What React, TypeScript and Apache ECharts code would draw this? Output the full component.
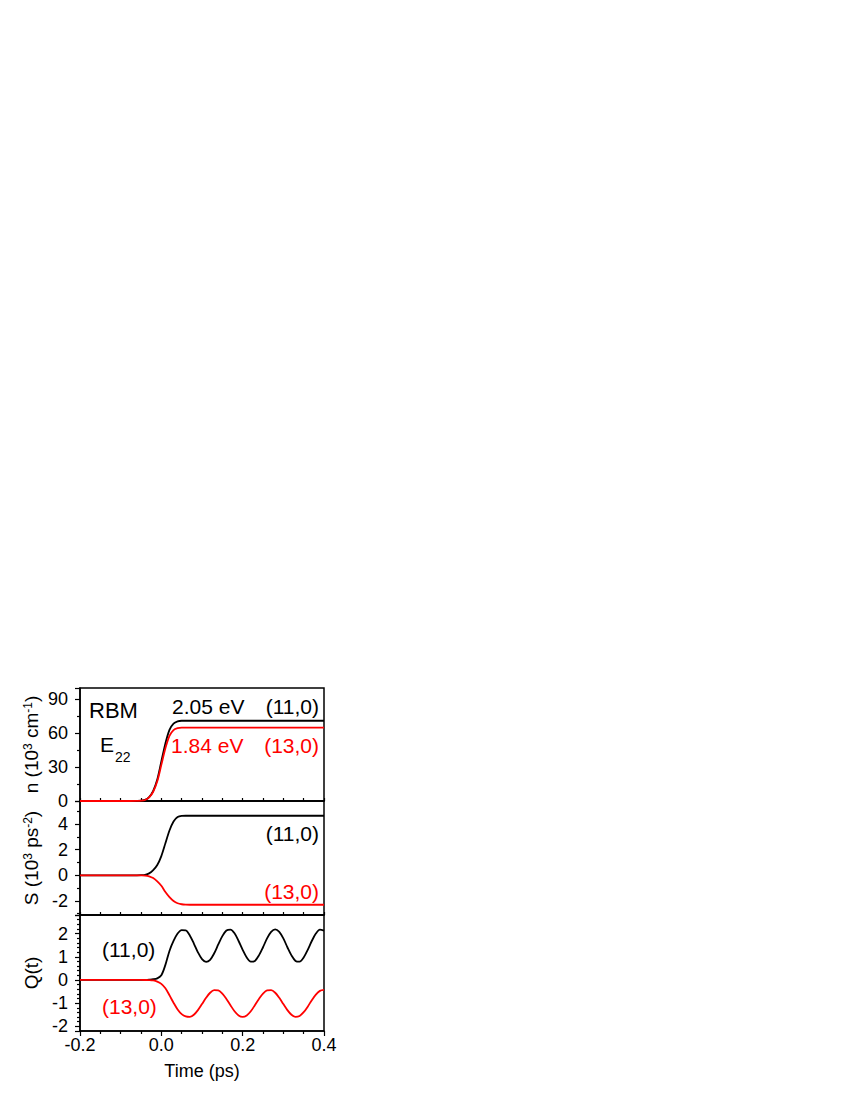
import React, { useEffect, useRef } from 'react';
import * as echarts from 'echarts';

const FONT = '"Liberation Sans", Arial, sans-serif';

// time axis for the n and S panels (ps)
const T_RISE = [-0.2, -0.15, -0.1, -0.08, -0.06, -0.05, -0.04, -0.03, -0.02, -0.01, 0, 0.01, 0.02, 0.03, 0.04, 0.05, 0.06, 0.07, 0.08, 0.1, 0.2, 0.3, 0.4];
const N_11 = [0, 0, 0, 0, 0.1, 0.3, 1, 3.5, 9, 19, 35, 51, 63, 68.5, 70.5, 71, 71, 71, 71, 71, 71, 71, 71];
const N_13 = [0, 0, 0, 0, 0.1, 0.3, 0.9, 3.2, 8.2, 17.4, 32, 46.7, 57.7, 62.8, 64.5, 65, 65, 65, 65, 65, 65, 65, 65];
const S_11 = [0, 0, 0, 0, 0, 0.01, 0.04, 0.15, 0.4, 0.8, 1.5, 2.5, 3.5, 4.2, 4.55, 4.64, 4.65, 4.65, 4.65, 4.65, 4.65, 4.65, 4.65];
const S_13 = [0, 0, 0, 0, 0, -0.005, -0.02, -0.08, -0.22, -0.48, -0.82, -1.3, -1.7, -2.0, -2.18, -2.26, -2.29, -2.3, -2.3, -2.3, -2.3, -2.3, -2.3];

// time axis for the Q panel (ps)
const T_Q = [-0.2, -0.15, -0.1, -0.08, -0.06, -0.05, -0.04, -0.03, -0.02, -0.01, 0,
  0.01, 0.02, 0.03, 0.04, 0.05, 0.06, 0.07, 0.08, 0.09, 0.1,
  0.11, 0.12, 0.13, 0.14, 0.15, 0.16, 0.17, 0.18, 0.19, 0.2,
  0.21, 0.22, 0.23, 0.24, 0.25, 0.26, 0.27, 0.28, 0.29, 0.3,
  0.31, 0.32, 0.33, 0.34, 0.35, 0.36, 0.37, 0.38, 0.39, 0.4];
const Q_11 = [0, 0, 0, 0, 0, 0, 0.005, 0.015, 0.03, 0.07, 0.2,
  0.65, 1.25, 1.68, 2.0, 2.15, 2.14, 1.92, 1.57, 1.19, 0.9,
  0.78, 0.87, 1.15, 1.53, 1.89, 2.13, 2.17, 2.01, 1.68, 1.3,
  0.97, 0.79, 0.82, 1.06, 1.41, 1.79, 2.07, 2.18, 2.07, 1.79,
  1.41, 1.06, 0.82, 0.79, 0.97, 1.3, 1.68, 2.0, 2.17, 2.13];
const Q_13 = [0, 0, 0, 0, 0, 0, -0.002, -0.005, -0.02, -0.07, -0.17,
  -0.36, -0.66, -0.98, -1.27, -1.47, -1.57, -1.59, -1.5, -1.3, -1.04,
  -0.77, -0.55, -0.44, -0.45, -0.59, -0.82, -1.09, -1.35, -1.53, -1.59,
  -1.53, -1.35, -1.09, -0.82, -0.59, -0.45, -0.44, -0.55, -0.77, -1.04,
  -1.3, -1.5, -1.59, -1.55, -1.39, -1.15, -0.87, -0.63, -0.47, -0.43];

const X_NAME = 'Time (ps)';
const BLACK = '#000000';
const RED = '#ff0000';

const zip = (xs: number[], ys: number[]) => xs.map((x, i) => [x, ys[i]]);

function buildOption() {
  const grids = [
    { left: 80, top: 688, width: 244, height: 113 },
    { left: 80, top: 801, width: 244, height: 114 },
    { left: 80, top: 915, width: 244, height: 116 },
  ].map((g) => ({ ...g, show: true, borderColor: BLACK, borderWidth: 1.5, backgroundColor: 'transparent' }));

  const axisLine = { show: true, onZero: false, lineStyle: { color: BLACK, width: 1.5 } };
  const labelStyle = { color: BLACK, fontSize: 18, fontFamily: FONT };

  const xAxes = [0, 1, 2].map((i) => ({
    type: 'value',
    gridIndex: i,
    min: -0.2,
    max: 0.4,
    interval: 0.2,
    axisLine,
    splitLine: { show: false },
    axisTick: { show: true, inside: i < 2, length: i < 2 ? 3 : 5, lineStyle: { color: BLACK, width: 1.2 } },
    minorTick: { show: true, splitNumber: 4, length: 3, lineStyle: { color: BLACK, width: 1.2 } },
    axisLabel: {
      show: i === 2,
      ...labelStyle,
      margin: 5,
      formatter: (v: number) => v.toFixed(1),
    },
    name: i === 2 ? X_NAME : '',
    nameLocation: 'middle',
    nameGap: 31,
    nameTextStyle: { color: BLACK, fontSize: 18, fontFamily: FONT },
  }));

  const nameRich = {
    a: { fontSize: 19, fontFamily: FONT, color: BLACK },
    s: { fontSize: 12, fontFamily: FONT, color: BLACK, verticalAlign: 'top' },
  };

  const yCommon = {
    type: 'value',
    axisLine,
    splitLine: { show: false },
    axisTick: { show: true, length: 5, lineStyle: { color: BLACK, width: 1.2 } },
    nameLocation: 'middle',
    nameRotate: 90,
    nameGap: 39,
    nameTextStyle: { color: BLACK, fontSize: 19, fontFamily: FONT, rich: nameRich },
  };

  const yAxes = [
    {
      ...yCommon,
      gridIndex: 0,
      min: 0,
      max: 100,
      interval: 30,
      minorTick: { show: true, splitNumber: 2, length: 3, lineStyle: { color: BLACK, width: 1.2 } },
      axisLabel: { ...labelStyle, margin: 12, showMaxLabel: false },
      name: '{a|n (10}{s|3}{a| cm}{s|-1}{a|)}',
    },
    {
      ...yCommon,
      gridIndex: 1,
      min: -3.1,
      max: 5.8,
      splitNumber: 5,
      minorTick: { show: true, splitNumber: 2, length: 3, lineStyle: { color: BLACK, width: 1.2 } },
      axisLabel: { ...labelStyle, margin: 12, showMaxLabel: false, showMinLabel: false },
      name: '{a|S (10}{s|3}{a| ps}{s|-2}{a|)}',
    },
    {
      ...yCommon,
      gridIndex: 2,
      min: -2.2,
      max: 2.8,
      splitNumber: 5,
      minorTick: { show: true, splitNumber: 5, length: 3, lineStyle: { color: BLACK, width: 1.2 } },
      axisLabel: { ...labelStyle, margin: 12, showMaxLabel: false, showMinLabel: false },
      name: '{a|Q(t)}',
    },
  ];

  const line = (name: string, data: number[][], idx: number, color: string) => ({
    name,
    type: 'line',
    xAxisIndex: idx,
    yAxisIndex: idx,
    data,
    showSymbol: false,
    smooth: 0.3,
    lineStyle: { color, width: 1.8 },
    itemStyle: { color },
  });

  const series = [
    line('n (11,0)', zip(T_RISE, N_11), 0, BLACK),
    line('n (13,0)', zip(T_RISE, N_13), 0, RED),
    line('S (11,0)', zip(T_RISE, S_11), 1, BLACK),
    line('S (13,0)', zip(T_RISE, S_13), 1, RED),
    line('Q (11,0)', zip(T_Q, Q_11), 2, BLACK),
    line('Q (13,0)', zip(T_Q, Q_13), 2, RED),
  ];

  const txt = (text: string, x: number, y: number, color: string, size: number, align = 'left') => ({
    type: 'text',
    x,
    y,
    z: 100,
    silent: true,
    style: {
      text,
      fill: color,
      fontSize: size,
      fontFamily: FONT,
      textAlign: align,
      textVerticalAlign: 'middle',
      align,
      verticalAlign: 'middle',
    },
  });

  const graphic = [
    txt('RBM', 89, 710, BLACK, 22),
    txt('E', 100, 744, BLACK, 21),
    txt('22', 115, 757, BLACK, 14),
    txt('2.05 eV', 172, 706, BLACK, 21),
    txt('(11,0)', 319, 706, BLACK, 21, 'right'),
    txt('1.84 eV', 171, 745, RED, 21),
    txt('(13,0)', 319, 745, RED, 21, 'right'),
    txt('(11,0)', 319, 833, BLACK, 21, 'right'),
    txt('(13,0)', 319, 891, RED, 21, 'right'),
    txt('(11,0)', 102, 949, BLACK, 21),
    txt('(13,0)', 102, 1006, RED, 21),
  ];

  return {
    animation: false,
    backgroundColor: '#ffffff',
    grid: grids,
    xAxis: xAxes,
    yAxis: yAxes,
    series,
    graphic,
  };
}

export default function App() {
  const ref = useRef<HTMLDivElement>(null);
  useEffect(() => {
    if (!ref.current) return;
    const chart = echarts.init(ref.current, null, { renderer: 'svg' });
    chart.setOption(buildOption() as any);
    return () => chart.dispose();
  }, []);
  return (
    <div
      ref={ref}
      style={{ position: 'absolute', left: 0, top: 0, width: 850, height: 1100 }}
    />
  );
}
